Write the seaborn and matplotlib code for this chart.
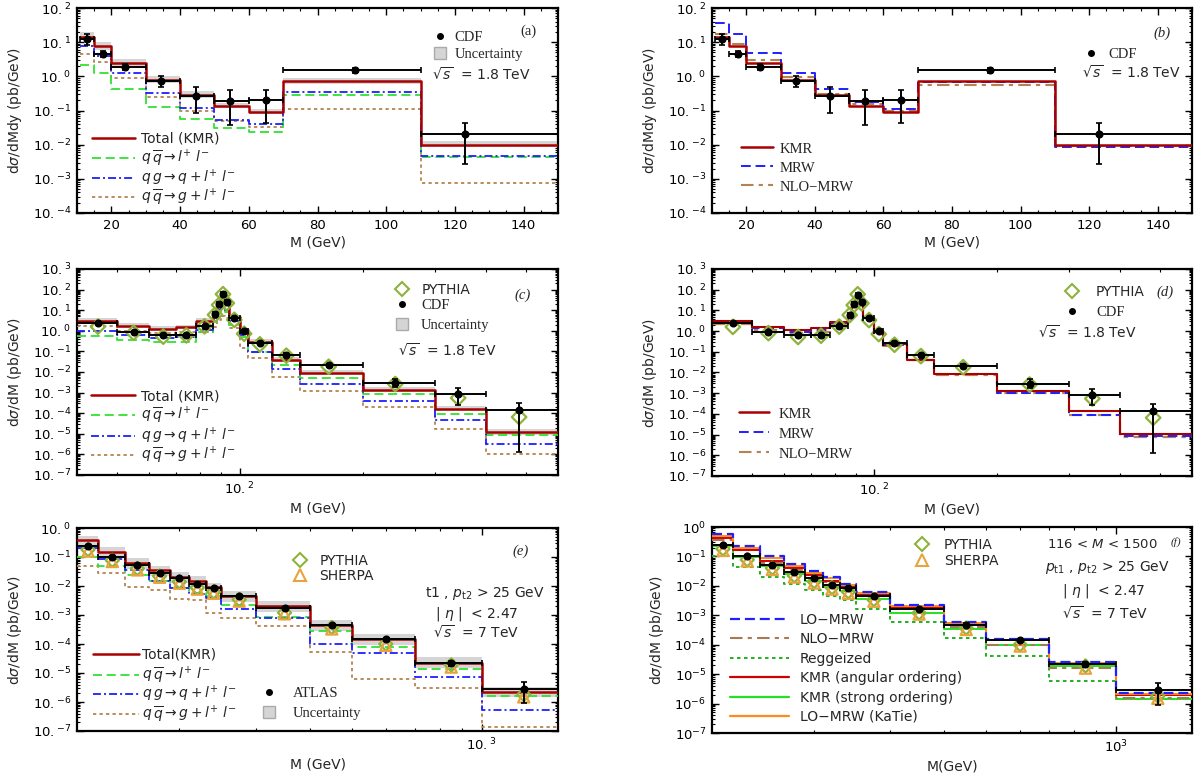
import matplotlib
matplotlib.use("Agg")
import matplotlib.pyplot as plt
from matplotlib.lines import Line2D
from matplotlib.legend import Legend
from matplotlib.ticker import (FixedLocator, FixedFormatter, NullFormatter,
                               LogLocator, MultipleLocator)
import numpy as np
import pandas as pd
import seaborn as sns

# ====================== DATA ======================
# ---- panels (a), (b): CDF 1.8 TeV, dsigma/dMdy ----
EDGES_AB = [11, 15, 20, 30, 40, 50, 60, 70, 110, 150]
KMR_AB = [14.6, 7.6, 2.41, 0.80, 0.29, 0.135, 0.093, 0.73, 0.0097]
QQ_A = [2.16, 1.22, 0.415, 0.129, 0.056, 0.031, 0.024, 0.29, 0.0043]
QG_A = [7.6, 3.9, 1.22, 0.326, 0.116, 0.054, 0.040, 0.348, 0.0047]
QQG_A = [4.37, 2.63, 0.88, 0.25, 0.097, 0.048, 0.032, 0.108, 0.00074]
UNC_A_UP = [1.40, 1.35, 1.30, 1.25, 1.25, 1.20, 1.20, 1.20, 1.35]
UNC_A_DN = [0.77, 0.80, 0.80, 0.82, 0.82, 0.85, 0.85, 0.82, 0.86]
MRW_B = [36.9, 17.0, 4.7, 1.28, 0.42, 0.18, 0.11, 0.69, 0.0083]
NLO_B = [17.7, 8.75, 3.0, 0.96, 0.30, 0.155, 0.10, 0.575, 0.0092]
CDF_AB_M = [13, 17.5, 24, 34.5, 44.5, 54.5, 65, 91, 123]
CDF_AB = [12.3, 4.56, 1.89, 0.72, 0.27, 0.188, 0.20, 1.52, 0.020]
CDF_AB_HI = [17.4, 5.6, 2.3, 1.05, 0.48, 0.39, 0.40, 1.81, 0.043]
CDF_AB_LO = [8.4, 3.7, 1.5, 0.48, 0.087, 0.038, 0.043, 1.22, 0.0028]

# ---- panels (c), (d): CDF 1.8 TeV, dsigma/dM ----
EDGES_CD = [40, 50, 60, 70, 78, 86, 88, 90, 92, 94, 100, 105, 120, 140, 200, 300, 400, 600]
KMR_C = [2.9, 1.7, 1.25, 1.45, 3.0, 7.5, 25, 52, 22, 4.7, 1.05, 0.30, 0.040, 0.0093, 0.00135, 1.6e-4, 1.2e-5]
QQ_C = [0.53, 0.34, 0.28, 0.28, 0.87, 3.0, 8.5, 15, 8.0, 2.0, 0.5, 0.094, 0.023, 0.0053, 8.4e-4, 9.1e-5, 8.9e-6]
QG_C = [0.93, 0.60, 0.44, 0.50, 1.07, 4.0, 10, 14, 10, 2.9, 0.6, 0.091, 0.0144, 0.0025, 4.0e-4, 4.7e-5, 3.1e-6]
QQG_C = [1.8, 1.0, 0.77, 0.83, 0.86, 1.5, 3.5, 5.0, 4.0, 1.3, 0.15, 0.049, 0.0059, 0.0012, 1.9e-4, 1.7e-5, 1.0e-6]
UNC_C_UP = [1.45, 1.35, 1.35, 1.35, 1.35, 1.3, 1.3, 1.3, 1.3, 1.3, 1.3, 1.3, 1.35, 1.35, 1.4, 1.4, 1.45]
UNC_C_DN = [0.78, 0.8, 0.8, 0.8, 0.8, 0.82, 0.82, 0.82, 0.82, 0.82, 0.8, 0.8, 0.8, 0.8, 0.78, 0.78, 0.75]
KMR_D = [3.0, 1.6, 1.1, 1.35, 2.8, 7.5, 25, 52, 22, 4.5, 0.95, 0.24, 0.041, 0.0087, 0.00123, 1.38e-4, 1.1e-5]
MRW_D = [2.8, 1.45, 0.93, 1.1, 2.5, 7.0, 22, 48, 20, 4.2, 0.9, 0.21, 0.039, 0.0081, 0.00102, 8.5e-5, 8.3e-6]
NLO_D = [2.3, 1.1, 0.77, 0.93, 2.2, 6.5, 20, 45, 19, 4.0, 0.85, 0.20, 0.038, 0.0080, 0.00100, 8.4e-5, 8.0e-6]
CDF_CD_M = [45, 55, 65, 74, 82, 87, 89, 91, 93, 97, 102.5, 112, 130, 165, 240, 342, 482]
CDF_CD = [2.4, 0.86, 0.62, 0.64, 1.8, 6.3, 20.5, 58, 24.7, 4.2, 1.0, 0.27, 0.07, 0.0214, 0.0029, 8.3e-4, 1.45e-4]
CDF_CD_HI = [2.8, 0.98, 0.71, 0.73, 2.0, 6.8, 22, 62, 26.5, 4.6, 1.1, 0.3, 0.08, 0.025, 0.0046, 1.6e-3, 3.0e-4]
CDF_CD_LO = [2.05, 0.75, 0.54, 0.56, 1.6, 5.8, 19, 54, 23, 3.8, 0.9, 0.24, 0.06, 0.018, 0.0018, 2.6e-4, 1.3e-6]
PYTHIA_CD = [1.6, 0.8, 0.52, 0.6, 1.65, 6.0, 18, 60, 22, 3.4, 0.72, 0.22, 0.062, 0.018, 0.0026, 5.5e-4, 6.5e-5]

# ---- panels (e), (f): ATLAS 7 TeV, dsigma/dM ----
EDGES_EF = [116, 130, 150, 170, 190, 210, 230, 250, 300, 400, 500, 700, 1000, 1500]
KMR_E = [0.377, 0.15, 0.063, 0.035, 0.021, 0.0148, 0.0089, 0.0046, 0.00203, 0.00045, 0.000146, 2.3e-5, 2.2e-6]
QQ_E = [0.1, 0.048, 0.0235, 0.0147, 0.0087, 0.0059, 0.0045, 0.0023, 0.00088, 0.00027, 8.1e-5, 1.35e-5, 1.55e-6]
QG_E = [0.21, 0.082, 0.035, 0.0148, 0.0082, 0.0052, 0.0039, 0.0016, 0.00077, 9.8e-5, 4.8e-5, 7e-6, 5.4e-7]
QQG_E = [0.049, 0.028, 0.0089, 0.0072, 0.0037, 0.0033, 0.00114, 0.00081, 0.00043, 5.5e-5, 6.3e-6, 3e-6, 1.38e-7]
UNC_E_UP = [1.4, 1.45, 1.45, 1.45, 1.45, 1.45, 1.45, 1.5, 1.5, 1.5, 1.5, 1.55, 1.45]
UNC_E_DN = [0.62, 0.62, 0.62, 0.62, 0.62, 0.62, 0.62, 0.62, 0.62, 0.62, 0.62, 0.63, 0.7]
ATLAS_M = [123, 140, 160, 180, 200, 220, 240, 275, 350, 450, 600, 850, 1250]
ATLAS_E = [0.24, 0.1, 0.055, 0.029, 0.019, 0.0115, 0.0082, 0.0046, 0.0017, 0.00045, 0.000145, 2.2e-5, 2.9e-6]
ATLAS_F = [0.24, 0.1, 0.052, 0.029, 0.019, 0.0105, 0.0085, 0.0046, 0.0017, 0.00048, 0.000145, 2.2e-5, 2.8e-6]
ATLAS_REL_ERR = [0.04, 0.04, 0.04, 0.05, 0.05, 0.05, 0.06, 0.06, 0.07, 0.1, 0.12, 0.2, 0.75]
PYTHIA_EF = [0.18, 0.077, 0.04, 0.022, 0.014, 0.0087, 0.0063, 0.0034, 0.0012, 0.00037, 0.0001, 1.9e-5, 1.8e-6]
SHERPA_EF = [0.16, 0.07, 0.036, 0.02, 0.0125, 0.0078, 0.0056, 0.003, 0.0011, 0.00033, 9e-5, 1.6e-5, 1.5e-6]
LOMRW_F = [0.56, 0.233, 0.105, 0.054, 0.032, 0.0204, 0.012, 0.0062, 0.0023, 0.0006, 0.000162, 2.5e-5, 2.3e-6]
NLOMRW_F = [0.35, 0.16, 0.062, 0.034, 0.0215, 0.0134, 0.0085, 0.0047, 0.0016, 0.00041, 0.0001, 1.58e-5, 1.5e-6]
REGGE_F = [0.1, 0.044, 0.0204, 0.012, 0.0071, 0.0044, 0.0034, 0.00166, 0.0006, 0.00017, 4.3e-5, 5.9e-6, 1.38e-6]
KMRAO_F = [0.42, 0.17, 0.071, 0.039, 0.023, 0.0145, 0.009, 0.005, 0.0019, 0.00049, 0.00014, 2.2e-5, 2.0e-6]
KMRSO_F = [0.233, 0.097, 0.048, 0.025, 0.015, 0.009, 0.0066, 0.0036, 0.00123, 0.00034, 9.5e-5, 1.83e-5, 1.38e-6]
KATIE_F = [0.48, 0.2, 0.088, 0.046, 0.028, 0.018, 0.011, 0.0057, 0.0021, 0.00054, 0.000148, 2.3e-5, 2.1e-6]

# ---- ticks ----
XTICKS_AB = [20, 40, 60, 80, 100, 120, 140]
XTICKLABELS_AB = ["20", "40", "60", "80", "100", "120", "140"]
XTICKS_CD = [100]
XTICKLABELS_CD = [r"$\mathregular{10.^{2}}$"]
XMINOR_CD = [50, 60, 70, 80, 90, 200, 300, 400, 500]
XTICKS_EF = [1000]
XTICKLABELS_E = [r"$\mathregular{10.^{3}}$"]
XTICKLABELS_F = [r"$\mathregular{10^{3}}$"]
XMINOR_EF = [200, 300, 400, 500, 600, 700, 800, 900]
YEXP_AB = [-4, -3, -2, -1, 0, 1, 2]
YEXP_CD = [-7, -6, -5, -4, -3, -2, -1, 0, 1, 2, 3]
YEXP_EF = [-7, -6, -5, -4, -3, -2, -1, 0]
YTICKLABELS_AB = [r"$\mathregular{10.^{%d}}$" % e for e in YEXP_AB]
YTICKLABELS_CD = [r"$\mathregular{10.^{%d}}$" % e for e in YEXP_CD]
YTICKLABELS_E = [r"$\mathregular{10.^{%d}}$" % e for e in YEXP_EF]
YTICKLABELS_F = [r"$\mathregular{10^{%d}}$" % e for e in YEXP_EF]

# ====================== STYLE ======================
sns.set_style("ticks")
SANS = "DejaVu Sans"
SERIF = "Liberation Serif"
plt.rcParams["font.family"] = [SANS]
plt.rcParams["mathtext.fontset"] = "dejavusans"

RED = "#a80000"
GREEN = "#33e033"
BLUE = "#1f1fff"
BROWN = "#b5834f"
GREY = "#d5d5d5"
OLIVE = "#8db33a"
ORANGE = "#e8a33c"
NLOBR = "#a57a55"

D_QQ = (5.0, 2.6)
D_QG = (4.4, 1.7, 1.1, 1.7)
D_QQG = (1.8, 1.8)
D_MRW = (5.0, 2.5)
D_NLO = (6.0, 2.5, 2.0, 2.5)

FS_TICK = 9.5
FS_LAB = 10
FS_LEG = 10
FS_SERIF = 10.5

fig = plt.figure(figsize=(12, 7.74), dpi=100)

AX_PX = {"a": (77, 8, 558, 213), "b": (712, 8, 1192, 213),
         "c": (77, 269, 558, 475), "d": (712, 269, 1192, 476),
         "e": (77, 528, 558, 731), "f": (712, 527, 1192, 733)}
axes = {}
for k, (l, t, r, b) in AX_PX.items():
    axes[k] = fig.add_axes([l / 1200, 1 - b / 774, (r - l) / 1200, (b - t) / 774])


def fy(key, ypx):
    """figure pixel row -> axes fraction for panel `key`"""
    l, t, r, b = AX_PX[key]
    return (b - ypx) / (b - t)


def ext(v):
    return list(v) + [v[-1]]


def steps(ax, edges, vals, color, lw=1.3, dashes=None, z=3):
    df = pd.DataFrame({"M": list(edges), "v": ext(vals)})
    sns.lineplot(data=df, x="M", y="v", ax=ax, color=color, linewidth=lw,
                 drawstyle="steps-post", estimator=None, sort=False,
                 zorder=z, legend=False)
    line = ax.lines[-1]
    if dashes is not None:
        line.set_dashes(dashes)


def band(ax, edges, vals, up, dn):
    hi = [v * u for v, u in zip(vals, up)]
    lo = [v * d for v, d in zip(vals, dn)]
    ax.fill_between(edges, ext(lo), ext(hi), step="post", color=GREY, lw=0, zorder=1)


def data_points(ax, edges, xm, y, yhi, ylo, z=6):
    xm = np.array(xm, float)
    y = np.array(y, float)
    xl = np.array(edges[:-1], float)
    xh = np.array(edges[1:], float)
    ax.errorbar(xm, y, yerr=[y - np.array(ylo), np.array(yhi) - y],
                xerr=[xm - xl, xh - xm], fmt="o", color="k", ms=4.8,
                elinewidth=1.4, capsize=2.3, capthick=1.2, zorder=z)


def mc_points(ax, xm, y, marker, color, s):
    sns.scatterplot(x=xm, y=y, ax=ax, marker=marker, s=s, facecolor="none",
                    edgecolor=color, linewidth=1.6, zorder=4, legend=False)


def setup(ax, xlim, ylim, xmaj, xlab, xmin, yexp, ylab, xlabel, ylabel):
    ax.set_xlim(*xlim)
    ax.set_ylim(*ylim)
    ax.xaxis.set_major_locator(FixedLocator(xmaj))
    ax.xaxis.set_major_formatter(FixedFormatter(xlab))
    ax.xaxis.set_minor_locator(xmin)
    ax.xaxis.set_minor_formatter(NullFormatter())
    ax.yaxis.set_major_locator(FixedLocator([10.0 ** e for e in yexp]))
    ax.yaxis.set_major_formatter(FixedFormatter(ylab))
    ax.yaxis.set_minor_locator(LogLocator(base=10, subs=np.arange(2, 10), numticks=200))
    ax.yaxis.set_minor_formatter(NullFormatter())
    ax.tick_params(which="both", direction="in", top=True, right=True,
                   labelsize=FS_TICK, colors="black")
    ax.tick_params(which="major", length=5, width=1.0, pad=4)
    ax.tick_params(which="minor", length=2.5, width=0.8)
    for s in ax.spines.values():
        s.set_linewidth(1.6)
        s.set_color("black")
    ax.set_xlabel(xlabel, fontsize=FS_LAB, labelpad=3)
    ax.set_ylabel(ylabel, fontsize=FS_LAB, labelpad=6)


def leg(ax, key, handles, labels, x0, rows_px, hl_px, gap_px, family,
        fs=FS_LEG, style="normal"):
    """One single-entry legend per row; the handle's left edge sits at axes
    fraction x0 and each row is vertically centred on the given pixel row."""
    for h, lab, ypx in zip(handles, labels, rows_px):
        lg = Legend(ax, [h], [lab], loc="center left",
                    bbox_to_anchor=(x0, fy(key, ypx)), bbox_transform=ax.transAxes,
                    borderaxespad=0, borderpad=0, frameon=False,
                    handlelength=hl_px * 0.72 / fs, handletextpad=gap_px * 0.72 / fs,
                    prop={"family": family, "size": fs, "style": style})
        ax.add_artist(lg)


def label(ax, key, x, ypx, s, fs=FS_LEG, **kw):
    ax.text(x, fy(key, ypx), s, transform=ax.transAxes, fontsize=fs, va="center", **kw)


def h_line(color, lw=1.3, dashes=None):
    if dashes is None:
        return Line2D([], [], color=color, lw=lw)
    return Line2D([], [], color=color, lw=lw, dashes=dashes)


H_CDF = Line2D([], [], marker="o", ls="none", color="k", ms=4)
H_UNC = Line2D([], [], marker="s", ls="none", ms=9, markerfacecolor=GREY,
               markeredgecolor="#aaaaaa", markeredgewidth=1.0)
H_PY = Line2D([], [], marker="D", ls="none", ms=7, markerfacecolor="none",
              markeredgecolor=OLIVE, markeredgewidth=1.5)
H_SH = Line2D([], [], marker="^", ls="none", ms=9, markerfacecolor="none",
              markeredgecolor=ORANGE, markeredgewidth=1.5)

L_QQ = r"$q\,\overline{q} \rightarrow l^{+}\ l^{-}$"
L_QG = r"$q\,g \rightarrow q + l^{+}\ l^{-}$"
L_QQG = r"$q\,\overline{q} \rightarrow g + l^{+}\ l^{-}$"
SQRT18 = r"$\sqrt{s}$  = 1.8 TeV"
SQRT7 = r"$\sqrt{s}$  = 7 TeV"

YL_DY = r"d$\sigma$/dMdy (pb/GeV)"
YL_M = r"d$\sigma$/dM (pb/GeV)"

# ====================== (a) ======================
ax = axes["a"]
band(ax, EDGES_AB, KMR_AB, UNC_A_UP, UNC_A_DN)
steps(ax, EDGES_AB, QQG_A, BROWN, 1.3, D_QQG)
steps(ax, EDGES_AB, QQ_A, GREEN, 1.3, D_QQ)
steps(ax, EDGES_AB, QG_A, BLUE, 1.3, D_QG)
steps(ax, EDGES_AB, KMR_AB, RED, 1.8, None, z=4)
data_points(ax, EDGES_AB, CDF_AB_M, CDF_AB, CDF_AB_HI, CDF_AB_LO)
ax.set_yscale("log")
setup(ax, (10, 150), (1e-4, 1e2), XTICKS_AB, XTICKLABELS_AB, MultipleLocator(5),
      YEXP_AB, YTICKLABELS_AB, "M (GeV)", YL_DY)
leg(ax, "a", [h_line(RED, 1.8), h_line(GREEN, 1.3, D_QQ), h_line(BLUE, 1.3, D_QG),
              h_line(BROWN, 1.3, D_QQG)],
    ["Total (KMR)", L_QQ, L_QG, L_QQG], 0.032, [139, 158, 178, 197], 43, 6, SANS)
leg(ax, "a", [H_CDF, H_UNC], ["CDF", "Uncertainty"], 0.754 - 7 / 481, [37, 54], 14, 8,
    SERIF, fs=FS_SERIF)
label(ax, "a", 0.738, 75, SQRT18)
label(ax, "a", 0.939, 31, "(a)", fs=FS_SERIF, family=SERIF, ha="center")

# ====================== (b) ======================
ax = axes["b"]
steps(ax, EDGES_AB, NLO_B, BROWN, 1.5, D_NLO)
steps(ax, EDGES_AB, MRW_B, BLUE, 1.4, D_MRW)
steps(ax, EDGES_AB, KMR_AB, RED, 1.8, None, z=4)
data_points(ax, EDGES_AB, CDF_AB_M, CDF_AB, CDF_AB_HI, CDF_AB_LO)
ax.set_yscale("log")
setup(ax, (10, 150), (1e-4, 1e2), XTICKS_AB, XTICKLABELS_AB, MultipleLocator(5),
      YEXP_AB, YTICKLABELS_AB, "M (GeV)", YL_DY)
leg(ax, "b", [h_line(RED, 1.8), h_line(BLUE, 1.4, D_MRW), h_line(BROWN, 1.5, D_NLO)],
    ["KMR", "MRW", "NLO\u2212MRW"], 0.06, [149, 168, 187], 32, 7, SERIF, fs=FS_SERIF)
leg(ax, "b", [H_CDF], ["CDF"], 0.79 - 7 / 480, [54], 14, 10, SERIF, fs=FS_SERIF)
label(ax, "b", 0.77, 73, SQRT18)
label(ax, "b", 0.937, 33, "(b)", fs=FS_SERIF, family=SERIF, style="italic", ha="center")

# ====================== (c) ======================
ax = axes["c"]
ax.set_xscale("log")
ax.set_yscale("log")
band(ax, EDGES_CD, KMR_C, UNC_C_UP, UNC_C_DN)
steps(ax, EDGES_CD, QQG_C, BROWN, 1.3, D_QQG)
steps(ax, EDGES_CD, QQ_C, GREEN, 1.3, D_QQ)
steps(ax, EDGES_CD, QG_C, BLUE, 1.3, D_QG)
steps(ax, EDGES_CD, KMR_C, RED, 1.8, None, z=4)
mc_points(ax, CDF_CD_M, PYTHIA_CD, "D", OLIVE, 55)
data_points(ax, EDGES_CD, CDF_CD_M, CDF_CD, CDF_CD_HI, CDF_CD_LO)
setup(ax, (40, 600), (1e-7, 1e3), XTICKS_CD, XTICKLABELS_CD, FixedLocator(XMINOR_CD),
      YEXP_CD, YTICKLABELS_CD, "M (GeV)", YL_M)
leg(ax, "c", [h_line(RED, 1.8), h_line(GREEN, 1.3, D_QQ), h_line(BLUE, 1.3, D_QG),
              h_line(BROWN, 1.3, D_QQG)],
    ["Total (KMR)", L_QQ, L_QG, L_QQG], 0.029, [396, 415, 436, 455], 44, 6.5, SANS)
leg(ax, "c", [H_PY], ["PYTHIA"], 0.676 - 7 / 481, [290], 14, 12, SANS)
leg(ax, "c", [H_CDF, H_UNC], ["CDF", "Uncertainty"], 0.676 - 7 / 481, [305, 325], 14, 12,
    SERIF, fs=FS_SERIF)
label(ax, "c", 0.668, 351, SQRT18)
label(ax, "c", 0.926, 295, "(c)", fs=FS_SERIF, family=SERIF, style="italic", ha="center")

# ====================== (d) ======================
ax = axes["d"]
ax.set_xscale("log")
ax.set_yscale("log")
steps(ax, EDGES_CD, NLO_D, BROWN, 1.6, D_NLO)
steps(ax, EDGES_CD, MRW_D, BLUE, 1.4, D_MRW)
steps(ax, EDGES_CD, KMR_D, RED, 1.5, None, z=4)
mc_points(ax, CDF_CD_M, PYTHIA_CD, "D", OLIVE, 55)
data_points(ax, EDGES_CD, CDF_CD_M, CDF_CD, CDF_CD_HI, CDF_CD_LO)
setup(ax, (40, 600), (1e-7, 1e3), XTICKS_CD, XTICKLABELS_CD, FixedLocator(XMINOR_CD),
      YEXP_CD, YTICKLABELS_CD, "M (GeV)", YL_M)
leg(ax, "d", [h_line(RED, 1.8), h_line(BLUE, 1.4, D_MRW), h_line(BROWN, 1.5, D_NLO)],
    ["KMR", "MRW", "NLO\u2212MRW"], 0.056, [414, 434, 454], 30, 10, SERIF, fs=FS_SERIF)
leg(ax, "d", [H_PY], ["PYTHIA"], 0.75 - 7 / 480, [292], 14, 17, SANS)
leg(ax, "d", [H_CDF], ["CDF"], 0.75 - 7 / 480, [312], 14, 17, SERIF, fs=FS_SERIF)
label(ax, "d", 0.68, 333, SQRT18)
label(ax, "d", 0.944, 292, "(d)", fs=FS_SERIF, family=SERIF, style="italic", ha="center")

# ====================== (e) ======================
ax = axes["e"]
ax.set_xscale("log")
ax.set_yscale("log")
band(ax, EDGES_EF, KMR_E, UNC_E_UP, UNC_E_DN)
steps(ax, EDGES_EF, QQG_E, BROWN, 1.3, D_QQG)
steps(ax, EDGES_EF, QQ_E, GREEN, 1.3, D_QQ)
steps(ax, EDGES_EF, QG_E, BLUE, 1.3, D_QG)
steps(ax, EDGES_EF, KMR_E, RED, 1.8, None, z=4)
mc_points(ax, ATLAS_M, PYTHIA_EF, "D", OLIVE, 45)
mc_points(ax, ATLAS_M, SHERPA_EF, "^", ORANGE, 65)
ae = np.array(ATLAS_E)
re = np.array(ATLAS_REL_ERR)
data_points(ax, EDGES_EF, ATLAS_M, ATLAS_E, ae * (1 + re), ae * (1 - 0.9 * re))
setup(ax, (116, 1500), (1e-7, 1.0), XTICKS_EF, XTICKLABELS_E, FixedLocator(XMINOR_EF),
      YEXP_EF, YTICKLABELS_E, "M (GeV)", YL_M)
leg(ax, "e", [h_line(RED, 1.8), h_line(GREEN, 1.3, D_QQ), h_line(BLUE, 1.3, D_QG),
              h_line(BROWN, 1.3, D_QQG)],
    ["Total(KMR)", L_QQ, L_QG, L_QQG], 0.033, [655, 675, 694, 714], 46, 3, SANS)
leg(ax, "e", [H_PY, H_SH], ["PYTHIA", "SHERPA"], 0.464 - 7 / 481, [561, 576], 14, 12, SANS)
leg(ax, "e", [H_CDF, H_UNC], ["ATLAS", "Uncertainty"], 0.40 - 7 / 481, [693, 713], 14, 16,
    SERIF, fs=FS_SERIF)
label(ax, "e", 0.724, 594, r"t1 , $p_{\rm t2}$ > 25 GeV")
label(ax, "e", 0.745, 614, r"| $\eta$ |  < 2.47")
label(ax, "e", 0.741, 633, SQRT7)
label(ax, "e", 0.923, 551, "(e)", fs=FS_SERIF, family=SERIF, style="italic", ha="center")

# ====================== (f) ======================
ax = axes["f"]
ax.set_xscale("log")
ax.set_yscale("log")
steps(ax, EDGES_EF, REGGE_F, "#22b022", 1.4, (1.8, 1.8))
steps(ax, EDGES_EF, KMRSO_F, "#22e022", 1.4)
steps(ax, EDGES_EF, NLOMRW_F, NLOBR, 1.5, D_NLO)
steps(ax, EDGES_EF, KMRAO_F, "#d00000", 1.4)
steps(ax, EDGES_EF, KATIE_F, "#ff8c1a", 1.4)
steps(ax, EDGES_EF, LOMRW_F, BLUE, 1.6, (4.5, 2.2))
mc_points(ax, ATLAS_M, PYTHIA_EF, "D", OLIVE, 45)
mc_points(ax, ATLAS_M, SHERPA_EF, "^", ORANGE, 65)
af = np.array(ATLAS_F)
data_points(ax, EDGES_EF, ATLAS_M, ATLAS_F, af * (1 + re), af * (1 - 0.9 * re))
setup(ax, (116, 1500), (1e-7, 1.0), XTICKS_EF, XTICKLABELS_F, FixedLocator(XMINOR_EF),
      YEXP_EF, YTICKLABELS_F, "M(GeV)", YL_M)
leg(ax, "f", [h_line(BLUE, 1.6, (4.5, 2.2)), h_line(NLOBR, 1.5, D_NLO),
              h_line("#22b022", 1.4, (1.8, 1.8)), h_line("#d00000", 1.6),
              h_line("#22e022", 1.6), h_line("#ff8c1a", 1.6)],
    ["LO\u2212MRW", "NLO\u2212MRW", "Reggeized", "KMR (angular ordering)",
     "KMR (strong ordering)", "LO\u2212MRW (KaTie)"],
    0.037, [620, 639, 659, 678, 698, 717], 59, 11, SANS)
leg(ax, "f", [H_PY, H_SH], ["PYTHIA", "SHERPA"], 0.437 - 7 / 480, [545, 561], 14, 15, SANS)
label(ax, "f", 0.698, 544, r"116 < $M$ < 1500", fs=9.5)
label(ax, "f", 0.694, 567, r"$p_{\rm t1}$ , $p_{\rm t2}$ > 25 GeV")
label(ax, "f", 0.73, 591, r"| $\eta$ |  < 2.47")
label(ax, "f", 0.73, 614, SQRT7)
label(ax, "f", 0.966, 542, "(f)", fs=8, family=SERIF, style="italic", ha="center")

fig.savefig("out.png", dpi=100)
